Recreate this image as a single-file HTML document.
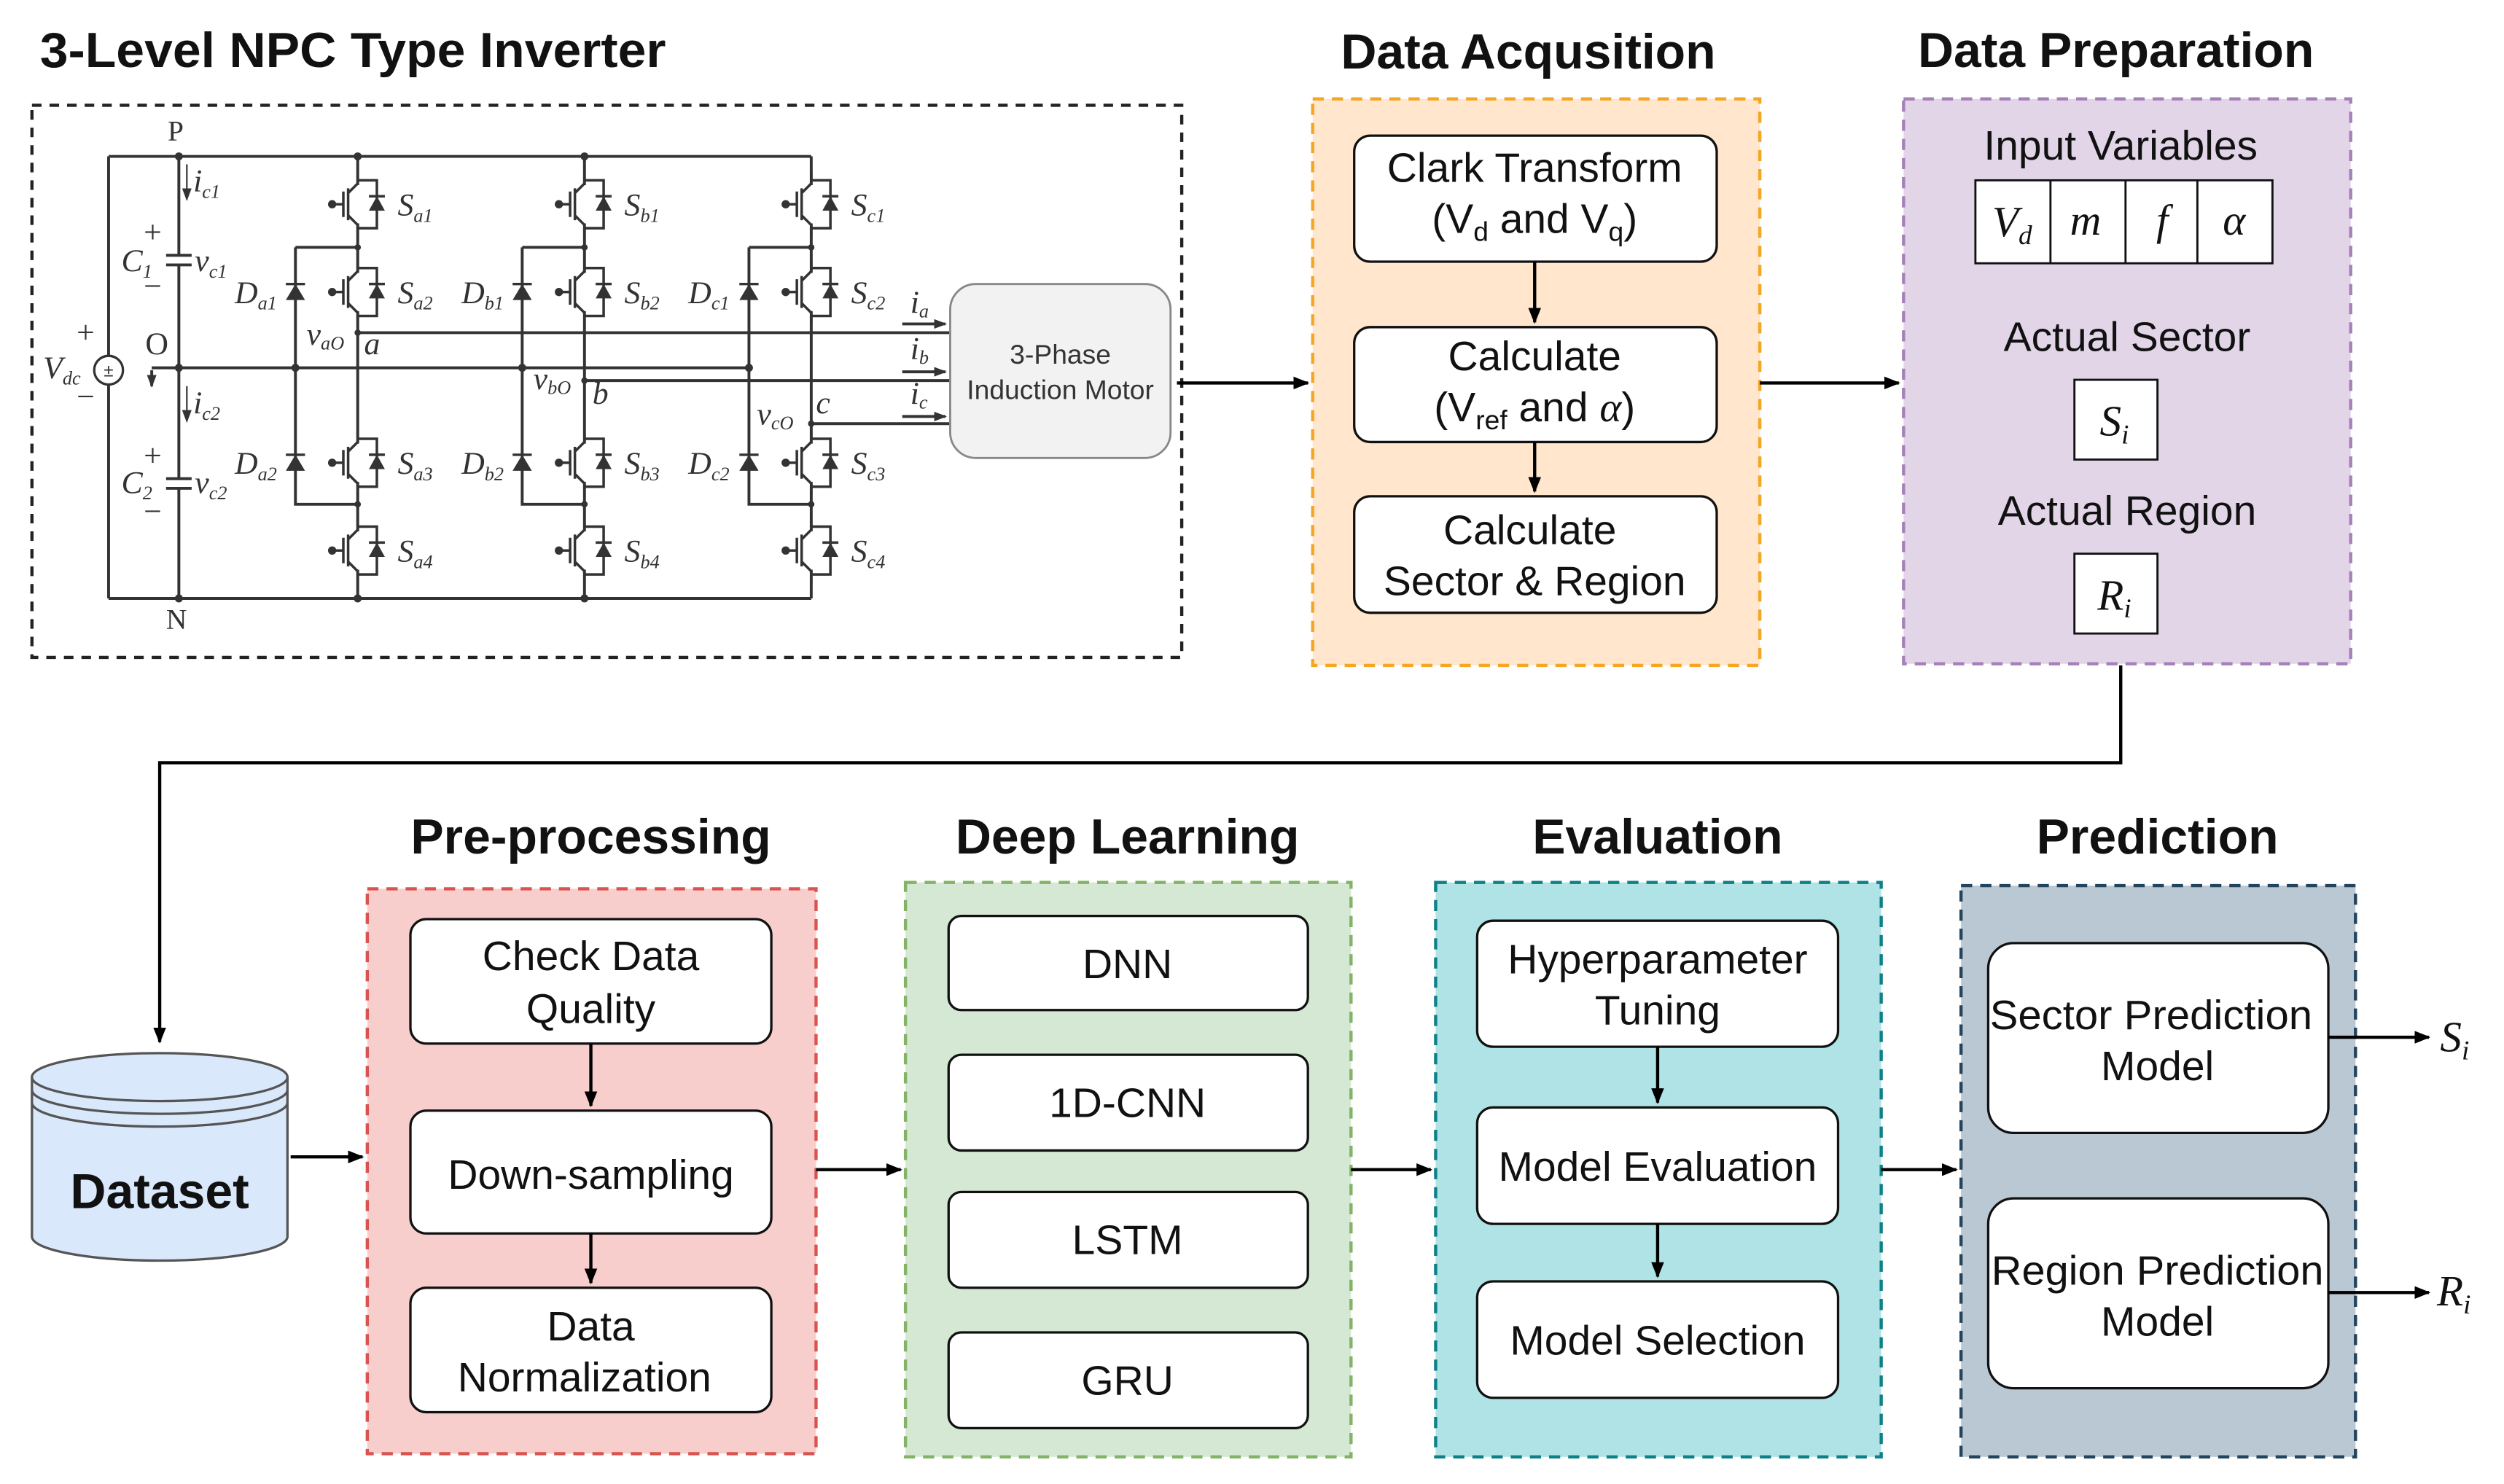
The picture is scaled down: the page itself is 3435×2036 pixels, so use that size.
<!DOCTYPE html>
<html><head><meta charset="utf-8"><style>
html,body{margin:0;padding:0;background:#fff;}
svg{display:block;}
.t{font-family:"Liberation Sans",sans-serif;}
.s{font-family:"Liberation Serif",serif;font-style:italic;}
</style></head><body>
<svg width="3435" height="2036" viewBox="0 0 1568 930" preserveAspectRatio="none" xmlns="http://www.w3.org/2000/svg">
<defs>
<marker id="ar" markerWidth="10" markerHeight="10" refX="9" refY="5" orient="auto" markerUnits="userSpaceOnUse"><path d="M0,1 L10,5 L0,9 Z" fill="#000"/></marker>
<marker id="sa" markerWidth="8" markerHeight="8" refX="7" refY="4" orient="auto" markerUnits="userSpaceOnUse"><path d="M0,1 L8,4 L0,7 Z" fill="#333"/></marker>
<g id="sw" stroke="#333" stroke-width="1.6" fill="none">
<rect x="-3" y="-12" width="6" height="24" fill="#fff" stroke="none"/>
<path d="M0,-20 V-13 L-6,-7 M-6,-10 V10 M-6,7 L0,13 V20 M0,-15 H12 V15 H0 M-9,-8 V8 M-9,0 H-15"/>
<circle cx="-16" cy="0" r="1.8" fill="#333"/>
<polygon points="12,-5 7,4 17,4" fill="#333" stroke="none"/>
<path d="M7,-5 H17"/>
</g>
<g id="di" stroke="#333" stroke-width="1.5">
<polygon points="0,-5 -6,5 6,5" fill="#333" stroke="none"/>
<path d="M-6,-5 H6"/>
</g>
</defs>

<!-- titles -->
<g class="t" font-weight="bold" font-size="31" fill="#111">
<text x="25" y="42" textLength="392" lengthAdjust="spacingAndGlyphs">3-Level NPC Type Inverter</text>
<text x="957" y="43" text-anchor="middle">Data Acqusition</text>
<text x="1325" y="42" text-anchor="middle">Data Preparation</text>
<text x="370" y="535" text-anchor="middle">Pre-processing</text>
<text x="706" y="535" text-anchor="middle">Deep Learning</text>
<text x="1038" y="535" text-anchor="middle">Evaluation</text>
<text x="1351" y="535" text-anchor="middle">Prediction</text>
</g>

<!-- circuit box -->
<rect x="20" y="66" width="720" height="346" fill="#fff" stroke="#222" stroke-width="2" stroke-dasharray="6,5"/>
<g stroke="#333" stroke-width="1.8" fill="none">
<path d="M68,98 H508 M68,375 H508 M68,98 V223 M68,241 V375 M112,98 V160 M112,166 V300 M112,306 V375"/>
<path d="M104,160 H120 M104,166 H120 M104,300 H120 M104,306 H120"/>
<path d="M95,230.5 H470"/>
<path d="M224,98 V375 M366,98 V375 M508,98 V375"/>
<path d="M185,155 H224 M185,155 V316 H224 M327,155 H366 M327,155 V316 H366 M469,155 H508 M469,155 V316 H508"/>
<path d="M224,208.5 H595 M366,238.5 H595 M508,265.5 H595"/>
<path d="M95,232 V242" marker-end="url(#sa)"/>
<path d="M117,103 V125" marker-end="url(#sa)" stroke-width="1"/>
<path d="M117,242 V264" marker-end="url(#sa)" stroke-width="1"/>
<path d="M565,203 H592" marker-end="url(#sa)"/>
<path d="M565,233 H592" marker-end="url(#sa)"/>
<path d="M565,261 H592" marker-end="url(#sa)"/>
</g>
<circle cx="68" cy="232" r="9" fill="#fff" stroke="#333" stroke-width="1.5"/>
<text x="68" y="236" font-size="11" text-anchor="middle" class="t" fill="#333">±</text>
<g fill="#333">
<circle cx="112" cy="98" r="2.5"/><circle cx="112" cy="375" r="2.5"/><circle cx="112" cy="230.5" r="2.5"/>
<circle cx="224" cy="98" r="2.5"/><circle cx="366" cy="98" r="2.5"/><circle cx="224" cy="375" r="2.5"/><circle cx="366" cy="375" r="2.5"/>
<circle cx="185" cy="230.5" r="2.5"/><circle cx="327" cy="230.5" r="2.5"/><circle cx="469" cy="230.5" r="2.5"/>
<circle cx="224" cy="155" r="2"/><circle cx="224" cy="316" r="2"/><circle cx="366" cy="155" r="2"/><circle cx="366" cy="316" r="2"/><circle cx="508" cy="155" r="2"/><circle cx="508" cy="316" r="2"/>
<circle cx="224" cy="208.5" r="2"/><circle cx="366" cy="238.5" r="2"/><circle cx="508" cy="265.5" r="2"/>
</g>
<use href="#sw" x="224" y="128"/><use href="#sw" x="224" y="183"/><use href="#sw" x="224" y="290"/><use href="#sw" x="224" y="345"/>
<use href="#sw" x="366" y="128"/><use href="#sw" x="366" y="183"/><use href="#sw" x="366" y="290"/><use href="#sw" x="366" y="345"/>
<use href="#sw" x="508" y="128"/><use href="#sw" x="508" y="183"/><use href="#sw" x="508" y="290"/><use href="#sw" x="508" y="345"/>
<use href="#di" x="185" y="183"/><use href="#di" x="185" y="290"/>
<use href="#di" x="327" y="183"/><use href="#di" x="327" y="290"/>
<use href="#di" x="469" y="183"/><use href="#di" x="469" y="290"/>
<g class="s" font-size="20" fill="#333">
<text x="105" y="88" style="font-style:normal" font-size="18">P</text>
<text x="104" y="394" style="font-style:normal" font-size="18">N</text>
<text x="91" y="222" style="font-style:normal">O</text>
<text x="48" y="215" style="font-style:normal">+</text>
<text x="48" y="255" style="font-style:normal">−</text>
<text x="27" y="237">V<tspan font-size="12" dy="4">dc</tspan></text>
<text x="90" y="152" style="font-style:normal">+</text><text x="90" y="186" style="font-style:normal">−</text>
<text x="90" y="292" style="font-style:normal">+</text><text x="90" y="327" style="font-style:normal">−</text>
<text x="76" y="170">C<tspan font-size="12" dy="4">1</tspan></text>
<text x="122" y="170">v<tspan font-size="12" dy="4">c1</tspan></text>
<text x="76" y="309">C<tspan font-size="12" dy="4">2</tspan></text>
<text x="122" y="309">v<tspan font-size="12" dy="4">c2</tspan></text>
<text x="121" y="120">i<tspan font-size="12" dy="4">c1</tspan></text>
<text x="121" y="259">i<tspan font-size="12" dy="4">c2</tspan></text>
<text x="249" y="135">S<tspan font-size="12" dy="4">a1</tspan></text><text x="249" y="190">S<tspan font-size="12" dy="4">a2</tspan></text><text x="249" y="297">S<tspan font-size="12" dy="4">a3</tspan></text><text x="249" y="352">S<tspan font-size="12" dy="4">a4</tspan></text>
<text x="391" y="135">S<tspan font-size="12" dy="4">b1</tspan></text><text x="391" y="190">S<tspan font-size="12" dy="4">b2</tspan></text><text x="391" y="297">S<tspan font-size="12" dy="4">b3</tspan></text><text x="391" y="352">S<tspan font-size="12" dy="4">b4</tspan></text>
<text x="533" y="135">S<tspan font-size="12" dy="4">c1</tspan></text><text x="533" y="190">S<tspan font-size="12" dy="4">c2</tspan></text><text x="533" y="297">S<tspan font-size="12" dy="4">c3</tspan></text><text x="533" y="352">S<tspan font-size="12" dy="4">c4</tspan></text>
<text x="147" y="190">D<tspan font-size="12" dy="4">a1</tspan></text><text x="147" y="297">D<tspan font-size="12" dy="4">a2</tspan></text>
<text x="289" y="190">D<tspan font-size="12" dy="4">b1</tspan></text><text x="289" y="297">D<tspan font-size="12" dy="4">b2</tspan></text>
<text x="431" y="190">D<tspan font-size="12" dy="4">c1</tspan></text><text x="431" y="297">D<tspan font-size="12" dy="4">c2</tspan></text>
<text x="192" y="216">v<tspan font-size="12" dy="3">aO</tspan></text><text x="228" y="222">a</text>
<text x="334" y="244">v<tspan font-size="12" dy="3">bO</tspan></text><text x="371" y="253">b</text>
<text x="474" y="266">v<tspan font-size="12" dy="3">cO</tspan></text><text x="511" y="259">c</text>
<text x="570" y="196">i<tspan font-size="12" dy="3">a</tspan></text>
<text x="570" y="225">i<tspan font-size="12" dy="3">b</tspan></text>
<text x="570" y="253">i<tspan font-size="12" dy="3">c</tspan></text>
</g>
<rect x="595" y="178" width="138" height="109" rx="16" fill="#f2f2f2" stroke="#888" stroke-width="1.3"/>
<text x="664" y="228" font-size="17" text-anchor="middle" class="t" fill="#333">3-Phase</text>
<text x="664" y="250" font-size="17" text-anchor="middle" class="t" fill="#333">Induction Motor</text>

<!-- Data acquisition -->
<rect x="822" y="62" width="280" height="355" fill="#ffe6cc" stroke="#f5a623" stroke-width="2" stroke-dasharray="7,5"/>
<g fill="#fff" stroke="#111" stroke-width="1.5">
<rect x="848" y="85" width="227" height="79" rx="10"/>
<rect x="848" y="205" width="227" height="72" rx="10"/>
<rect x="848" y="311" width="227" height="73" rx="10"/>
</g>
<g class="t" font-size="26" fill="#111" text-anchor="middle">
<text x="961" y="114">Clark Transform</text>
<text x="961" y="146">(V<tspan font-size="17" dy="5">d</tspan><tspan dy="-5"> and V</tspan><tspan font-size="17" dy="5">q</tspan><tspan dy="-5">)</tspan></text>
<text x="961" y="232">Calculate</text>
<text x="961" y="264">(V<tspan font-size="17" dy="5">ref</tspan><tspan dy="-5"> and </tspan><tspan class="s">α</tspan>)</text>
<text x="958" y="341">Calculate</text>
<text x="961" y="373">Sector &amp; Region</text>
</g>

<!-- Data preparation -->
<rect x="1192" y="62" width="280" height="354" fill="#e1d5e7" stroke="#a680b8" stroke-width="2" stroke-dasharray="7,5"/>
<g class="t" font-size="26" fill="#111" text-anchor="middle">
<text x="1328" y="100">Input Variables</text>
<text x="1332" y="220">Actual Sector</text>
<text x="1332" y="329">Actual Region</text>
</g>
<g fill="#fff" stroke="#111" stroke-width="1.3">
<rect x="1237" y="113" width="186" height="52"/>
<path d="M1284,113 V165 M1331,113 V165 M1376,113 V165"/>
<rect x="1299" y="238" width="52" height="50"/>
<rect x="1299" y="347" width="52" height="50"/>
</g>
<g class="s" font-size="27" fill="#111" text-anchor="middle">
<text x="1260" y="148">V<tspan font-size="17" dy="5">d</tspan></text>
<text x="1306" y="147">m</text>
<text x="1354" y="147">f</text>
<text x="1399" y="147">α</text>
<text x="1324" y="273">S<tspan font-size="17" dy="5">i</tspan></text>
<text x="1324" y="382">R<tspan font-size="17" dy="5">i</tspan></text>
</g>

<!-- top connectors -->
<g stroke="#000" stroke-width="2" fill="none">
<path d="M737,240 H819" marker-end="url(#ar)"/>
<path d="M1102,240 H1189" marker-end="url(#ar)"/>
<path d="M961,164 V202" marker-end="url(#ar)"/>
<path d="M961,277 V308" marker-end="url(#ar)"/>
<path d="M1328,417 V478 H100 V653" marker-end="url(#ar)"/>
</g>

<!-- Dataset -->
<g fill="#dae8fc" stroke="#555" stroke-width="1.5">
<path d="M20,675 V775 A80,15 0 0 0 180,775 V675"/>
<ellipse cx="100" cy="675" rx="80" ry="15"/>
<path d="M20,683 A80,15 0 0 0 180,683 M20,691 A80,15 0 0 0 180,691" fill="none"/>
</g>
<text x="100" y="757" class="t" font-size="31" font-weight="bold" text-anchor="middle" fill="#111">Dataset</text>

<!-- bottom stage boxes -->
<rect x="230" y="557" width="281" height="354" fill="#f8cecc" stroke="#d9534f" stroke-width="2" stroke-dasharray="7,5"/>
<rect x="567" y="553" width="279" height="360" fill="#d5e8d4" stroke="#82b366" stroke-width="2" stroke-dasharray="7,5"/>
<rect x="899" y="553" width="279" height="360" fill="#b0e3e6" stroke="#0e8088" stroke-width="2" stroke-dasharray="7,5"/>
<rect x="1228" y="555" width="247" height="358" fill="#bac8d3" stroke="#23445d" stroke-width="2" stroke-dasharray="7,5"/>
<g fill="#fff" stroke="#111" stroke-width="1.5">
<rect x="257" y="576" width="226" height="78" rx="10"/>
<rect x="257" y="696" width="226" height="77" rx="10"/>
<rect x="257" y="807" width="226" height="78" rx="10"/>
<rect x="594" y="574" width="225" height="59" rx="8"/>
<rect x="594" y="661" width="225" height="60" rx="8"/>
<rect x="594" y="747" width="225" height="60" rx="8"/>
<rect x="594" y="835" width="225" height="60" rx="8"/>
<rect x="925" y="577" width="226" height="79" rx="10"/>
<rect x="925" y="694" width="226" height="73" rx="10"/>
<rect x="925" y="803" width="226" height="73" rx="10"/>
<rect x="1245" y="591" width="213" height="119" rx="16"/>
<rect x="1245" y="751" width="213" height="119" rx="16"/>
</g>
<g class="t" font-size="26" fill="#111" text-anchor="middle">
<text x="370" y="608">Check Data</text><text x="370" y="641">Quality</text>
<text x="370" y="745">Down-sampling</text>
<text x="370" y="840">Data</text><text x="366" y="872">Normalization</text>
<text x="706" y="613">DNN</text>
<text x="706" y="700">1D-CNN</text>
<text x="706" y="786">LSTM</text>
<text x="706" y="874">GRU</text>
<text x="1038" y="610">Hyperparameter</text><text x="1038" y="642">Tuning</text>
<text x="1038" y="740">Model Evaluation</text>
<text x="1038" y="849">Model Selection</text>
<text x="1347" y="645" textLength="202" lengthAdjust="spacingAndGlyphs">Sector Prediction</text><text x="1351" y="677">Model</text>
<text x="1351" y="805" textLength="208" lengthAdjust="spacingAndGlyphs">Region Prediction</text><text x="1351" y="837">Model</text>
</g>
<g stroke="#000" stroke-width="2" fill="none">
<path d="M182,725 H227" marker-end="url(#ar)"/>
<path d="M511,733 H564" marker-end="url(#ar)"/>
<path d="M846,733 H896" marker-end="url(#ar)"/>
<path d="M1178,733 H1225" marker-end="url(#ar)"/>
<path d="M370,654 V693" marker-end="url(#ar)"/>
<path d="M370,773 V804" marker-end="url(#ar)"/>
<path d="M1038,656 V691" marker-end="url(#ar)"/>
<path d="M1038,767 V800" marker-end="url(#ar)"/>
<path d="M1458,650 H1521" marker-end="url(#ar)"/>
<path d="M1458,810 H1521" marker-end="url(#ar)"/>
</g>
<g class="s" font-size="27" fill="#111">
<text x="1528" y="659">S<tspan font-size="17" dy="5">i</tspan></text>
<text x="1526" y="818">R<tspan font-size="17" dy="5">i</tspan></text>
</g>
</svg>
</body></html>
